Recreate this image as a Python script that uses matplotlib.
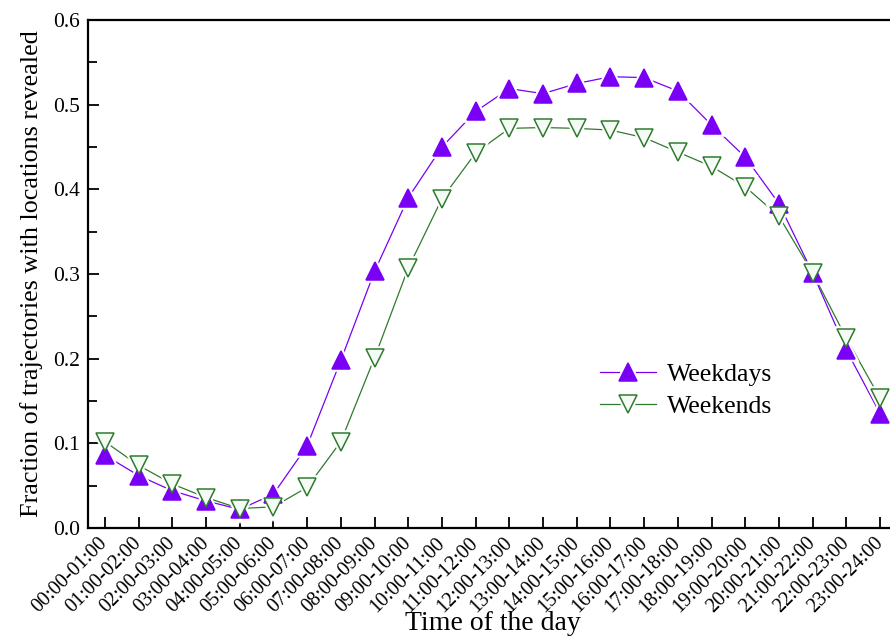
import numpy as np
import matplotlib
matplotlib.use('Agg')
import matplotlib.pyplot as plt
from matplotlib.ticker import MultipleLocator
from matplotlib.legend_handler import HandlerTuple

plt.rcParams['font.family'] = ['Liberation Serif', 'DejaVu Serif']

hours = [f'{h:02d}:00-{h + 1:02d}:00' for h in range(24)]
weekdays = [0.086, 0.062, 0.044, 0.032, 0.022, 0.040, 0.097, 0.198, 0.303, 0.390,
            0.450, 0.492, 0.519, 0.513, 0.525, 0.533, 0.532, 0.516, 0.476, 0.438,
            0.383, 0.301, 0.210, 0.135]
weekends = [0.102, 0.074, 0.052, 0.036, 0.023, 0.025, 0.048, 0.102, 0.201, 0.307,
            0.389, 0.443, 0.472, 0.473, 0.472, 0.470, 0.461, 0.444, 0.427, 0.403,
            0.368, 0.301, 0.224, 0.153]

purple = '#7a00f5'
green = '#2f7a2f'
MS = 13

fig = plt.figure(figsize=(8.9, 6.36), dpi=100)
# axes runs slightly past the right edge, like the cropped original
ax = fig.add_axes([88 / 890, 1 - 528 / 636, (897 - 88) / 890, (528 - 20) / 636])

x = np.arange(len(hours))
handles = []
for vals, col, mk, face in [(weekdays, purple, '^', purple), (weekends, green, 'v', '#f4fbf4')]:
    ln, = ax.plot(x, vals, color=col, lw=0.9, zorder=1)
    # white halo so the line stops short of each marker (Origin style)
    halo, = ax.plot(x, vals, ls='none', marker=mk, ms=MS, mfc='white', mec='white',
                    mew=4, zorder=2)
    pts, = ax.plot(x, vals, ls='none', marker=mk, ms=MS, mfc=face, mec=col,
                   mew=1.1, zorder=3)
    handles.append((ln, halo, pts))

ax.set_xlim(-0.5, 23.5)
ax.set_ylim(0, 0.6)
ax.set_xticks(x)
ax.set_xticklabels(hours, rotation=45, ha='right', va='center', rotation_mode='anchor')
ax.yaxis.set_major_locator(MultipleLocator(0.1))
ax.yaxis.set_minor_locator(MultipleLocator(0.05))
ax.yaxis.set_major_formatter(plt.FormatStrFormatter('%.1f'))
ax.tick_params(axis='both', which='major', direction='in', length=7.7, width=1.3)
ax.tick_params(axis='y', which='minor', direction='in', length=6.5, width=1.3)
ax.tick_params(axis='y', labelsize=15.5, pad=6)
ax.tick_params(axis='x', labelsize=14.5, pad=9)
for s in ax.spines.values():
    s.set_linewidth(1.6)

ax.set_xlabel('Time of the day', fontsize=20, labelpad=-4)
ax.set_ylabel('Fraction of trajectories with locations revealed', fontsize=18.8, labelpad=7)

ax.legend(handles, ['Weekdays', 'Weekends'], handler_map={tuple: HandlerTuple(ndivide=1, pad=0)},
          loc='upper left', bbox_to_anchor=(0.62, 0.345), frameon=False, fontsize=18.5,
          handlelength=2.2, handletextpad=0.4, borderaxespad=0, labelspacing=0.35)

fig.savefig('out.png', dpi=100)
